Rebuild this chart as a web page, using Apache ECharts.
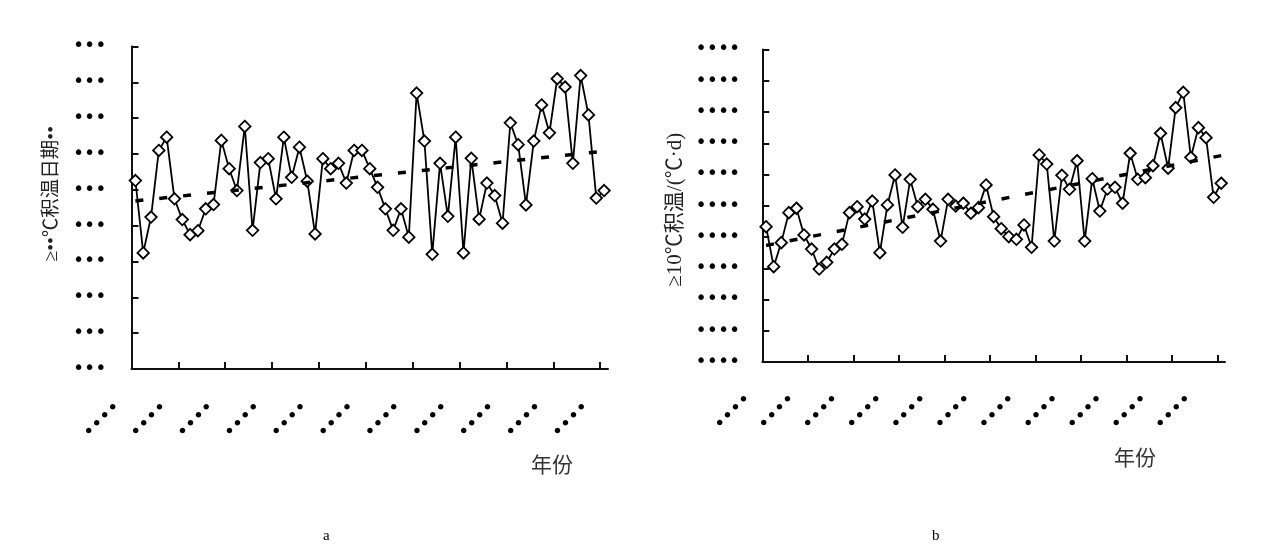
<!DOCTYPE html>
<html><head><meta charset="utf-8">
<script src="https://cdn.jsdelivr.net/npm/echarts@6/dist/echarts.min.js"></script>
<style>html,body{margin:0;padding:0;background:#fff}#c{width:1269px;height:549px}</style>
</head><body><div id="c"></div>
<script>
// ---- data ----
const years = [1951,1952,1953,1954,1955,1956,1957,1958,1959,1960,1961,1962,1963,1964,1965,1966,1967,1968,1969,1970,
  1971,1972,1973,1974,1975,1976,1977,1978,1979,1980,1981,1982,1983,1984,1985,1986,1987,1988,1989,1990,
  1991,1992,1993,1994,1995,1996,1997,1998,1999,2000,2001,2002,2003,2004,2005,2006,2007,2008,2009,2010,2011];
// panel a: ≥…℃积温日期
const valuesA = [112.6,92.4,102.4,121.0,124.7,107.5,101.7,97.5,98.6,104.7,105.9,123.8,115.9,109.8,127.7,98.7,117.6,118.7,107.5,124.7,
  113.5,121.9,112.4,97.7,118.7,115.9,117.4,111.9,121.0,121.0,115.9,110.7,104.7,98.7,104.7,96.8,137.0,123.6,92.0,117.4,
  102.6,124.7,92.4,118.8,101.8,111.9,108.4,100.7,128.7,122.6,105.8,123.6,133.7,125.9,141.0,138.7,117.4,141.9,130.9,107.7,109.8];
const trendA = [106.9, 120.8];      // linear trend at first / last year
// panel b: ≥10℃积温
const valuesB = [3866,3610,3764,3956,3984,3813,3723,3595,3638,3723,3753,3956,3994,3915,4030,3700,4005,4197,3862,4169,
  3994,4041,3977,3774,4041,3998,4016,3952,3988,4133,3930,3853,3802,3785,3877,3734,4325,4267,3774,4195,
  4105,4288,3774,4173,3966,4107,4118,4016,4336,4169,4180,4256,4464,4240,4628,4726,4310,4500,4436,4054,4144];
const trendB = [3746, 4321];
// tick label texts (as printed in the figure)
const yTickA = '•••';
const yTickB = '••••';
const xTick = '••••';
const yNameA = '≥••℃积温日期••';
const yNameB = '≥10℃积温/(℃·d)';
const xName = '年份';
const panelLabels = ['a', 'b'];

// ---- chart ----
const chart = echarts.init(document.getElementById('c'), null, {renderer: 'canvas'});
const first = years[0], last = years[years.length - 1];
const tickYears = years.filter((_, i) => i % 6 === 0);
const labelPosB = tickYears.map((_, k) => first + k * 5.81);
const pts = vals => years.map((y, i) => [y + 0.5, vals[i]]);
const trendPts = t => [[first + 0.5, t[0]], [last + 0.5, t[1]]];
const axisLineStyle = {color: '#111', width: 2};
const dotFont = {fontFamily: 'DejaVu Sans', fontSize: 19, color: '#000'};

function xAxisFor(gi, labelVals, margin, padR) {
  return {
    type: 'value', gridIndex: gi, min: first, max: last + 1,
    splitLine: {show: false},
    axisLine: {show: true, lineStyle: axisLineStyle},
    axisTick: {show: true, inside: true, length: 7, lineStyle: {color: '#111', width: 2}, customValues: tickYears},
    axisLabel: Object.assign({show: true, rotate: 45, margin: margin, padding: [0, padR, 0, 0],
      customValues: labelVals, formatter: () => xTick}, dotFont)
  };
}
function yAxisFor(gi, min, max, interval, txt, name, gap, margin, fs, pad) {
  return {
    type: 'value', gridIndex: gi, min: min, max: max, interval: interval,
    splitLine: {show: false},
    axisLine: {show: true, lineStyle: axisLineStyle},
    axisTick: {show: true, inside: true, length: 7, lineStyle: {color: '#111', width: 2}},
    axisLabel: Object.assign({margin: margin, formatter: () => txt}, dotFont),
    name: name, nameLocation: 'middle', nameGap: gap,
    nameTextStyle: {fontFamily: 'Liberation Serif, "Noto Sans CJK SC"', fontSize: fs, color: '#222', padding: pad}
  };
}
function mainSeries(xi, yi, vals) {
  return {
    type: 'line', xAxisIndex: xi, yAxisIndex: yi, data: pts(vals),
    symbol: 'diamond', symbolSize: 11.5, showSymbol: true,
    lineStyle: {color: '#000', width: 1.8},
    itemStyle: {color: '#fff', borderColor: '#000', borderWidth: 1.8},
    z: 2
  };
}
function trendSeries(xi, yi, t) {
  return {
    type: 'line', xAxisIndex: xi, yAxisIndex: yi, data: trendPts(t),
    symbol: 'none', lineStyle: {color: '#000', width: 3.5, type: [8, 16]}, z: 4
  };
}

chart.setOption({
  animation: false,
  backgroundColor: '#fff',
  grid: [
    {left: 131.5, top: 46.5, width: 476.5, height: 322.5},
    {left: 762.3, top: 49.5, width: 462.7, height: 312.5}
  ],
  xAxis: [xAxisFor(0, tickYears, 22, 19), xAxisFor(1, labelPosB, 21, 19)],
  yAxis: [yAxisFor(0, 60, 150, 10, yTickA, yNameA, 70, 25, 19.5, [0, 0, 0, 28]),
          yAxisFor(1, 3000, 5000, 200, yTickB, yNameB, 76, 22, 21, [0, 8, 0, 0])],
  series: [mainSeries(0, 0, valuesA), trendSeries(0, 0, trendA),
           mainSeries(1, 1, valuesB), trendSeries(1, 1, trendB)],
  graphic: [
    {type: 'text', left: 531, top: 454, style: {text: xName, font: '21px "Noto Sans CJK SC"', fill: '#333'}},
    {type: 'text', left: 1114, top: 447, style: {text: xName, font: '21px "Noto Sans CJK SC"', fill: '#333'}},
    {type: 'text', left: 323, top: 529, style: {text: panelLabels[0], font: '15px "Liberation Serif"', fill: '#000'}},
    {type: 'text', left: 932, top: 529, style: {text: panelLabels[1], font: '15px "Liberation Serif"', fill: '#000'}}
  ]
});
</script>
</body></html>
